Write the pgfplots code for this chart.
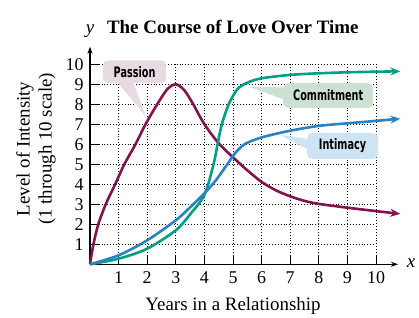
\documentclass[border=0pt]{standalone}
\usepackage{pgfplots}
\pgfplotsset{compat=1.18}
\usepackage{fontspec}
\setmainfont{Liberation Serif}
\newfontfamily\lab[FakeStretch=0.67]{DejaVu Sans}
\usetikzlibrary{arrows.meta}
\definecolor{passion}{RGB}{130,20,75}
\definecolor{commit}{RGB}{0,160,130}
\definecolor{intim}{RGB}{40,130,200}
\definecolor{pbox}{RGB}{232,218,226}
\definecolor{cbox}{RGB}{205,225,210}
\definecolor{ibox}{RGB}{205,228,242}
\begin{document}
\begin{tikzpicture}
\begin{axis}[
 scale only axis, width=286bp, height=200bp,
 xmin=0,xmax=10,ymin=0,ymax=10,
 axis lines=left,
 axis line style={line width=1.1pt},
 x axis line style={-{Stealth[length=7pt,width=5pt]}, shorten >=-22bp},
 y axis line style={-{Stealth[length=7pt,width=5pt]}, shorten >=-17.6bp},
 xtick={1,...,10}, ytick={1,...,10},
 tick align=inside, major tick length=9bp,
 tick style={line width=0.9pt, black},
 grid=major, grid style={black, line width=0.7pt, dash pattern=on 0.7pt off 2.2pt},
 /pgf/number format/assume math mode=true,
 xticklabel={\rmfamily\fontsize{18}{18}\selectfont\pgfmathprintnumber{\tick}},
 yticklabel={\rmfamily\fontsize{18}{18}\selectfont\pgfmathprintnumber{\tick}},
 xticklabel style={yshift=-4bp},
 yticklabel style={xshift=-3bp},
 clip=false,
]
\fill[pbox, rounded corners=5bp] (axis cs:0.45,9.07) rectangle (axis cs:2.66,10.2);
\fill[pbox] (axis cs:0.9,9.2) -- (axis cs:1.94,7.42) -- (axis cs:1.49,9.2) -- cycle;
\node[font=\lab\bfseries\fontsize{14.5}{14.5}\selectfont] at (axis cs:1.56,9.63) {Passion};
\fill[cbox, rounded corners=5bp] (axis cs:6.75,7.82) rectangle (axis cs:9.9,9.06);
\fill[cbox] (axis cs:6.9,8.85) -- (axis cs:5.6,8.86) -- (axis cs:7.05,8.1) -- cycle;
\node[font=\lab\bfseries\fontsize{14.5}{14.5}\selectfont] at (axis cs:8.33,8.44) {Commitment};
\fill[ibox, rounded corners=5bp] (axis cs:7.59,5.27) rectangle (axis cs:10.07,6.57);
\fill[ibox] (axis cs:7.7,6.25) -- (axis cs:6.65,6.47) -- (axis cs:7.8,5.6) -- cycle;
\node[font=\lab\bfseries\fontsize{14.5}{14.5}\selectfont] at (axis cs:8.83,5.92) {Intimacy};
\addplot[passion, line width=2.6bp, smooth, tension=0.5, -{Stealth[length=10bp,width=8bp]}] coordinates {
(0,0)(0.12,1)(0.29,2)(0.55,3)(0.88,4)(1.2,5)(1.59,6)(1.94,7)(2.35,8)(2.7,8.75)(3,9.0)(3.3,8.7)(3.61,8)(4,7)(4.5,6.05)(5,5.35)(5.5,4.7)(6,4.12)(6.5,3.7)(7,3.4)(7.5,3.17)(8,3.02)(9,2.83)(10,2.66)(10.85,2.52)};
\addplot[commit, line width=2.6bp, smooth, tension=0.5, -{Stealth[length=10bp,width=8bp]}] coordinates {
(0,0)(1,0.28)(2,0.78)(3,1.7)(3.5,2.5)(4,3.47)(4.32,5)(4.46,6)(4.61,7)(4.85,8)(5.15,8.75)(5.5,9.08)(6,9.3)(7,9.47)(8,9.55)(9,9.6)(10,9.63)(10.85,9.65)};
\addplot[intim, line width=2.6bp, smooth, tension=0.5, -{Stealth[length=10bp,width=8bp]}] coordinates {
(0,0)(1,0.45)(2,1.2)(3,2.2)(3.5,2.85)(4,3.55)(4.4,4.2)(4.8,5)(5.1,5.6)(5.4,6.0)(5.8,6.25)(6.2,6.42)(7,6.68)(8,6.92)(9,7.05)(10,7.17)(10.85,7.28)};
\node[anchor=base west, font=\bfseries\fontsize{19}{19}\selectfont, inner sep=0] at (axis cs:0.59,11.55) {The Course of Love Over Time};
\node[anchor=base, font=\itshape\fontsize{19}{19}\selectfont, inner sep=0] at (axis cs:0,11.55) {y};
\node[anchor=west, font=\itshape\fontsize{19}{19}\selectfont, inner sep=0] at (axis cs:11.07,0.05) {x};
\node[anchor=base, font=\fontsize{19}{19}\selectfont, inner sep=0] at (axis cs:5.0,-2.29) {Years in a Relationship};
\node[rotate=90, align=center, font=\fontsize{19}{22}\selectfont, inner sep=0] at (axis cs:-1.89,5.77) {Level of Intensity\\(1 through 10 scale)};
\end{axis}
\pgfresetboundingbox
\useasboundingbox (-90bp,-53.7bp) rectangle (329bp,264.3bp);
\end{tikzpicture}
\end{document}
